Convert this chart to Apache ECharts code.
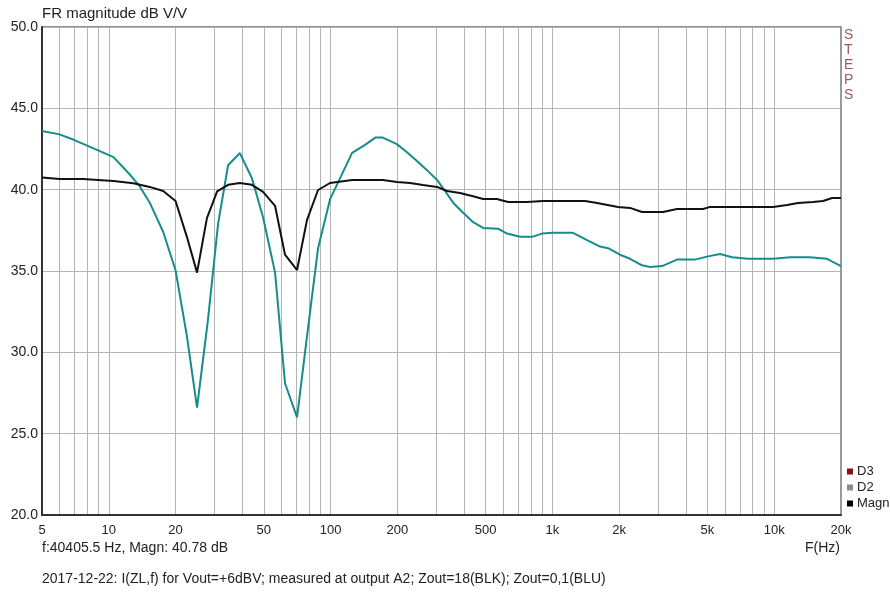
<!DOCTYPE html>
<html>
<head>
<meta charset="utf-8">
<script src="https://cdn.jsdelivr.net/npm/echarts@6/dist/echarts.min.js"></script>
<style>
  html, body { margin: 0; padding: 0; background: #fff; }
  #chart { width: 890px; height: 592px; }
</style>
</head>
<body>
<div id="chart"></div>
<script>
// frequency response
var tealFreq = [5, 6, 7, 8.85, 10.5, 12.5, 13.8, 15.3, 17.6, 20, 22.5, 25, 28, 31.1, 34.5, 39, 44.2, 49.6, 56.2, 62.3, 70.6, 78.3, 87.8, 99.4,
  125, 143, 159, 172, 199, 221, 248, 272, 302, 321, 357, 395, 439, 487, 569, 624, 715, 810, 898, 1006, 1239, 1433, 1640, 1782,
  2018, 2239, 2535, 2754, 3120, 3645, 4395, 5030, 5700, 6456, 7620, 9880, 11790, 14510, 17300, 20000];
var tealDb = [43.6, 43.4, 43.05, 42.45, 42.0, 40.9, 40.2, 39.2, 37.4, 35.05, 31.0, 26.6, 32.0, 37.9, 41.5, 42.25, 40.7, 38.3, 34.9, 28.1, 26.0, 31.0, 36.4, 39.4,
  42.26, 42.75, 43.2, 43.2, 42.8, 42.3, 41.7, 41.2, 40.6, 40.1, 39.2, 38.6, 38.0, 37.65, 37.6, 37.3, 37.1, 37.1, 37.3, 37.35, 37.35, 36.9, 36.5, 36.4,
  36.0, 35.75, 35.35, 35.25, 35.3, 35.7, 35.7, 35.9, 36.05, 35.85, 35.75, 35.75, 35.85, 35.85, 35.75, 35.3];

var magnFreq = [5, 6, 7.65, 10.5, 12.9, 15.3, 17.6, 20, 22.5, 25, 27.7, 30.8, 34.5, 39, 44.2, 49.6, 56.2, 62.3, 70.6, 78.3, 87.8, 99.4,
  125, 172, 199, 228, 261, 302, 335, 383, 439, 487, 562, 631, 769, 907, 1403, 1590, 1975, 2239, 2535, 3150, 3645, 4776, 5140, 9880,
  11430, 12800, 14960, 16600, 18230, 20000];
var magnDb = [40.75, 40.66, 40.66, 40.53, 40.4, 40.17, 39.92, 39.3, 37.1, 34.9, 38.25, 39.9, 40.3, 40.41, 40.3, 39.86, 39.0, 36.0, 35.06, 38.14, 39.98, 40.41,
  40.6, 40.6, 40.47, 40.41, 40.29, 40.17, 39.92, 39.8, 39.6, 39.43, 39.43, 39.24, 39.24, 39.3, 39.3, 39.18, 38.94, 38.88, 38.63, 38.63, 38.81, 38.81, 38.94, 38.94,
  39.06, 39.18, 39.24, 39.3, 39.49, 39.49];

var gridFreqs = [5, 6, 7, 8, 9, 10, 20, 30, 40, 50, 60, 70, 80, 90, 100, 200, 300, 400, 500, 600, 700, 800, 900,
  1000, 2000, 3000, 4000, 5000, 6000, 7000, 8000, 9000, 10000, 20000];
var labelFreqs = [5, 10, 20, 50, 100, 200, 500, 1000, 2000, 5000, 10000, 20000];

function toPairs(fs, ds) {
  var out = [];
  for (var i = 0; i < fs.length; i++) out.push([Math.log10(fs[i]), ds[i]]);
  return out;
}

var font = 'Liberation Sans, Arial, sans-serif';
var myChart = echarts.init(document.getElementById('chart'));

var option = {
  animation: false,
  textStyle: { fontFamily: font },
  grid: { left: 42, right: 49, top: 27, bottom: 77, show: true, borderColor: '#222', borderWidth: 1 },
  legend: {
    data: ['D3', 'D2', 'Magn'],
    orient: 'vertical',
    left: 847,
    top: 465,
    icon: 'rect',
    itemWidth: 6,
    itemHeight: 6,
    itemGap: 3,
    padding: 0,
    selectedMode: false,
    textStyle: { fontSize: 13, color: '#222', padding: [0, 0, 0, -1] }
  },
  xAxis: {
    type: 'value',
    min: Math.log10(5),
    max: Math.log10(20000),
    axisLine: { lineStyle: { color: '#333', width: 2 } },
    axisTick: { show: false, customValues: gridFreqs.map(function (f) { return Math.log10(f); }) },
    splitLine: { show: true, lineStyle: { color: '#b4b4b4', width: 1 } },
    axisLabel: {
      customValues: labelFreqs.map(function (f) { return Math.log10(f); }),
      color: '#222',
      fontSize: 13,
      margin: 9,
      formatter: function (v) {
        var f = Math.round(Math.pow(10, v));
        return f >= 1000 ? (f / 1000) + 'k' : String(f);
      }
    }
  },
  yAxis: [{
    type: 'value',
    min: 20,
    max: 50,
    interval: 5,
    axisLine: { show: true, lineStyle: { color: '#333', width: 2 } },
    axisTick: { show: false },
    splitLine: { lineStyle: { color: '#b4b4b4', width: 1 } },
    axisLabel: { color: '#222', fontSize: 14, margin: 4, formatter: function (v) { return v.toFixed(1); } }
  }, {
    type: 'value',
    position: 'right',
    min: 20,
    max: 50,
    axisLine: { show: true, lineStyle: { color: '#999', width: 2 } },
    axisTick: { show: false },
    axisLabel: { show: false },
    splitLine: { show: false }
  }],
  series: [
    { name: 'D3', type: 'line', data: [], itemStyle: { color: '#8b1010' } },
    { name: 'D2', type: 'line', data: [], itemStyle: { color: '#8c8c8c' } },
    {
      name: 'Zout=0,1', type: 'line', data: toPairs(tealFreq, tealDb),
      showSymbol: false, lineStyle: { color: '#168c8c', width: 2 }, itemStyle: { color: '#168c8c' }
    },
    {
      name: 'Magn', type: 'line', data: toPairs(magnFreq, magnDb),
      showSymbol: false, lineStyle: { color: '#111', width: 2 }, itemStyle: { color: '#000' }
    }
  ],
  graphic: [
    { type: 'text', left: 42, top: 6, style: { text: 'FR magnitude dB V/V', font: '15px ' + font, fill: '#222' } },
    { type: 'text', left: 844, top: 28, style: { text: 'S\nT\nE\nP\nS', font: '14px ' + font, fill: '#a05a5a', lineHeight: 15 } },
    { type: 'text', left: 805, top: 541, style: { text: 'F(Hz)', font: '14px ' + font, fill: '#222' } },
    { type: 'text', left: 42, top: 541, style: { text: 'f:40405.5 Hz, Magn: 40.78 dB', font: '14px ' + font, fill: '#222' } },
    { type: 'text', left: 42, top: 572, style: { text: '2017-12-22: I(ZL,f) for Vout=+6dBV; measured at output A2; Zout=18(BLK); Zout=0,1(BLU)', font: '14px ' + font, fill: '#222' } }
  ]
};

myChart.setOption(option);
window.addEventListener('resize', myChart.resize);
</script>
</body>
</html>
